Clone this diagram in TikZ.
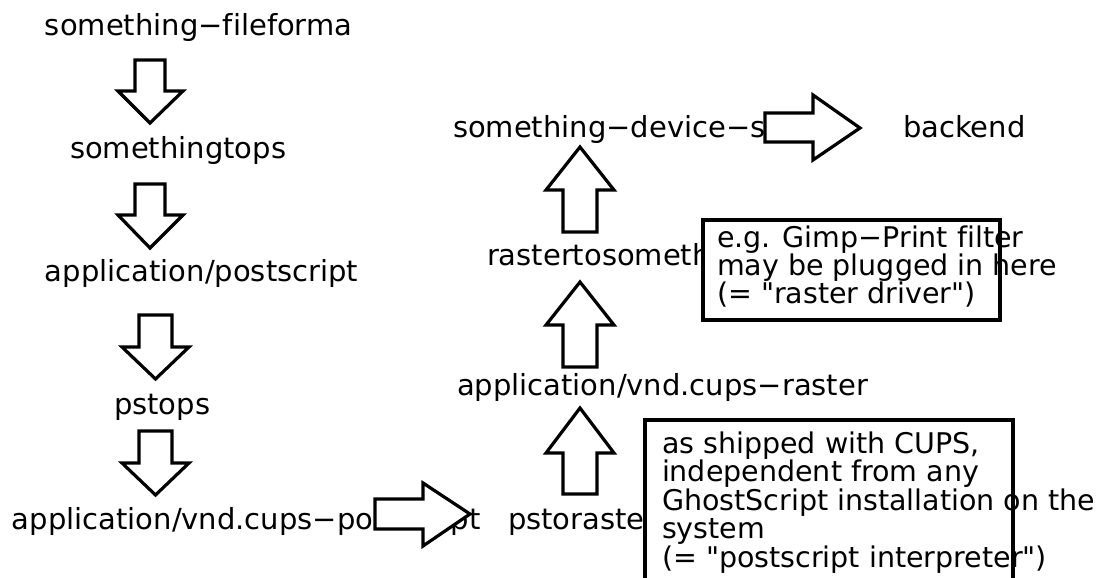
\documentclass[tikz,border=0pt]{standalone}
\usepackage{fontspec}
\setmainfont{DejaVu Sans}[Ligatures={TeXOff,NoCommon}]
\begin{document}
\begin{tikzpicture}[x=1pt,y=-1pt,
  lbl/.style={anchor=base west, inner sep=0pt, outer sep=0pt, font=\fontsize{29}{29}\selectfont},
  boxtxt/.style={anchor=base west, inner sep=0pt, outer sep=0pt, font=\fontsize{28.5}{28.5}\selectfont},
  blk/.style={draw=black, fill=white, line width=3.2pt, line join=miter},
  note/.style={draw=black, fill=white, line width=3.2pt, anchor=north west, inner sep=0pt, outer sep=0pt}]
\clip (0,0) rectangle (1120,578);
\fill[white] (0,0) rectangle (1120,578);
% labels of the chain
\node[lbl] (ff) at (45,36) {something−fileforma};
\node[lbl] (tops) at (70,158) {somethingtops};
\node[lbl] (ps) at (45,281) {application/postscript};
\node[lbl] (pstops) at (114,414) {pstops};
\node[lbl] (cupsps) at (12,529) {application/vnd.cups−postscript};
\node[lbl] (psr) at (508,529) {pstoraster};
\node[lbl] (raster) at (457,395) {application/vnd.cups−raster};
\node[lbl] (rts) at (487,265) {rastertosomething};
\node[lbl] (dev) at (453,137) {something−device−s};
\node[lbl] (be) at (903,137) {backend};
% down arrows
\draw[blk] (135,60) -- (165,60) -- (165,91) -- (183,91) -- (150,123) -- (118,91) -- (135,91) -- cycle;
\draw[blk] (135,184) -- (165,184) -- (165,215) -- (183,215) -- (150,248) -- (118,215) -- (135,215) -- cycle;
\draw[blk] (139,315) -- (172,315) -- (172,347) -- (189,347) -- (155.5,379) -- (122,347) -- (139,347) -- cycle;
\draw[blk] (139,431) -- (172,431) -- (172,463) -- (189,463) -- (155.5,495) -- (122,463) -- (139,463) -- cycle;
% right arrows
\draw[blk] (375,499) -- (423,499) -- (423,483) -- (470,514) -- (423,546) -- (423,529) -- (375,529) -- cycle;
\draw[blk] (765,113) -- (813,113) -- (813,95) -- (860,128) -- (813,160) -- (813,142) -- (765,142) -- cycle;
% up arrows
\draw[blk] (563,494) -- (563,453) -- (546,453) -- (580,408) -- (614,453) -- (597,453) -- (597,494) -- cycle;
\draw[blk] (563,367) -- (563,325) -- (546,325) -- (580,282) -- (614,325) -- (597,325) -- (597,367) -- cycle;
\draw[blk] (563,232) -- (563,190) -- (546,190) -- (580,147) -- (614,190) -- (597,190) -- (597,232) -- cycle;
% note boxes
\node[note, minimum width=297pt, minimum height=100pt] (gimpbox) at (703,220) {};
\node[note, minimum width=368pt, minimum height=190pt] (cupsbox) at (645,420) {};
\node[boxtxt] (g1) at (717,247) {e.g. Gimp−Print filter};
\node[boxtxt] (g2) at (717,275) {may be plugged in here};
\node[boxtxt] (g3) at (717,303) {(= "raster driver")};
\node[boxtxt] (c1) at (662,453) {as shipped with CUPS,};
\node[boxtxt] (c2) at (662,481.5) {independent from any};
\node[boxtxt] (c3) at (662,510) {GhostScript installation on the};
\node[boxtxt] (c4) at (662,538.5) {system};
\node[boxtxt] (c5) at (662,567) {(= "postscript interpreter")};
\end{tikzpicture}
\end{document}
